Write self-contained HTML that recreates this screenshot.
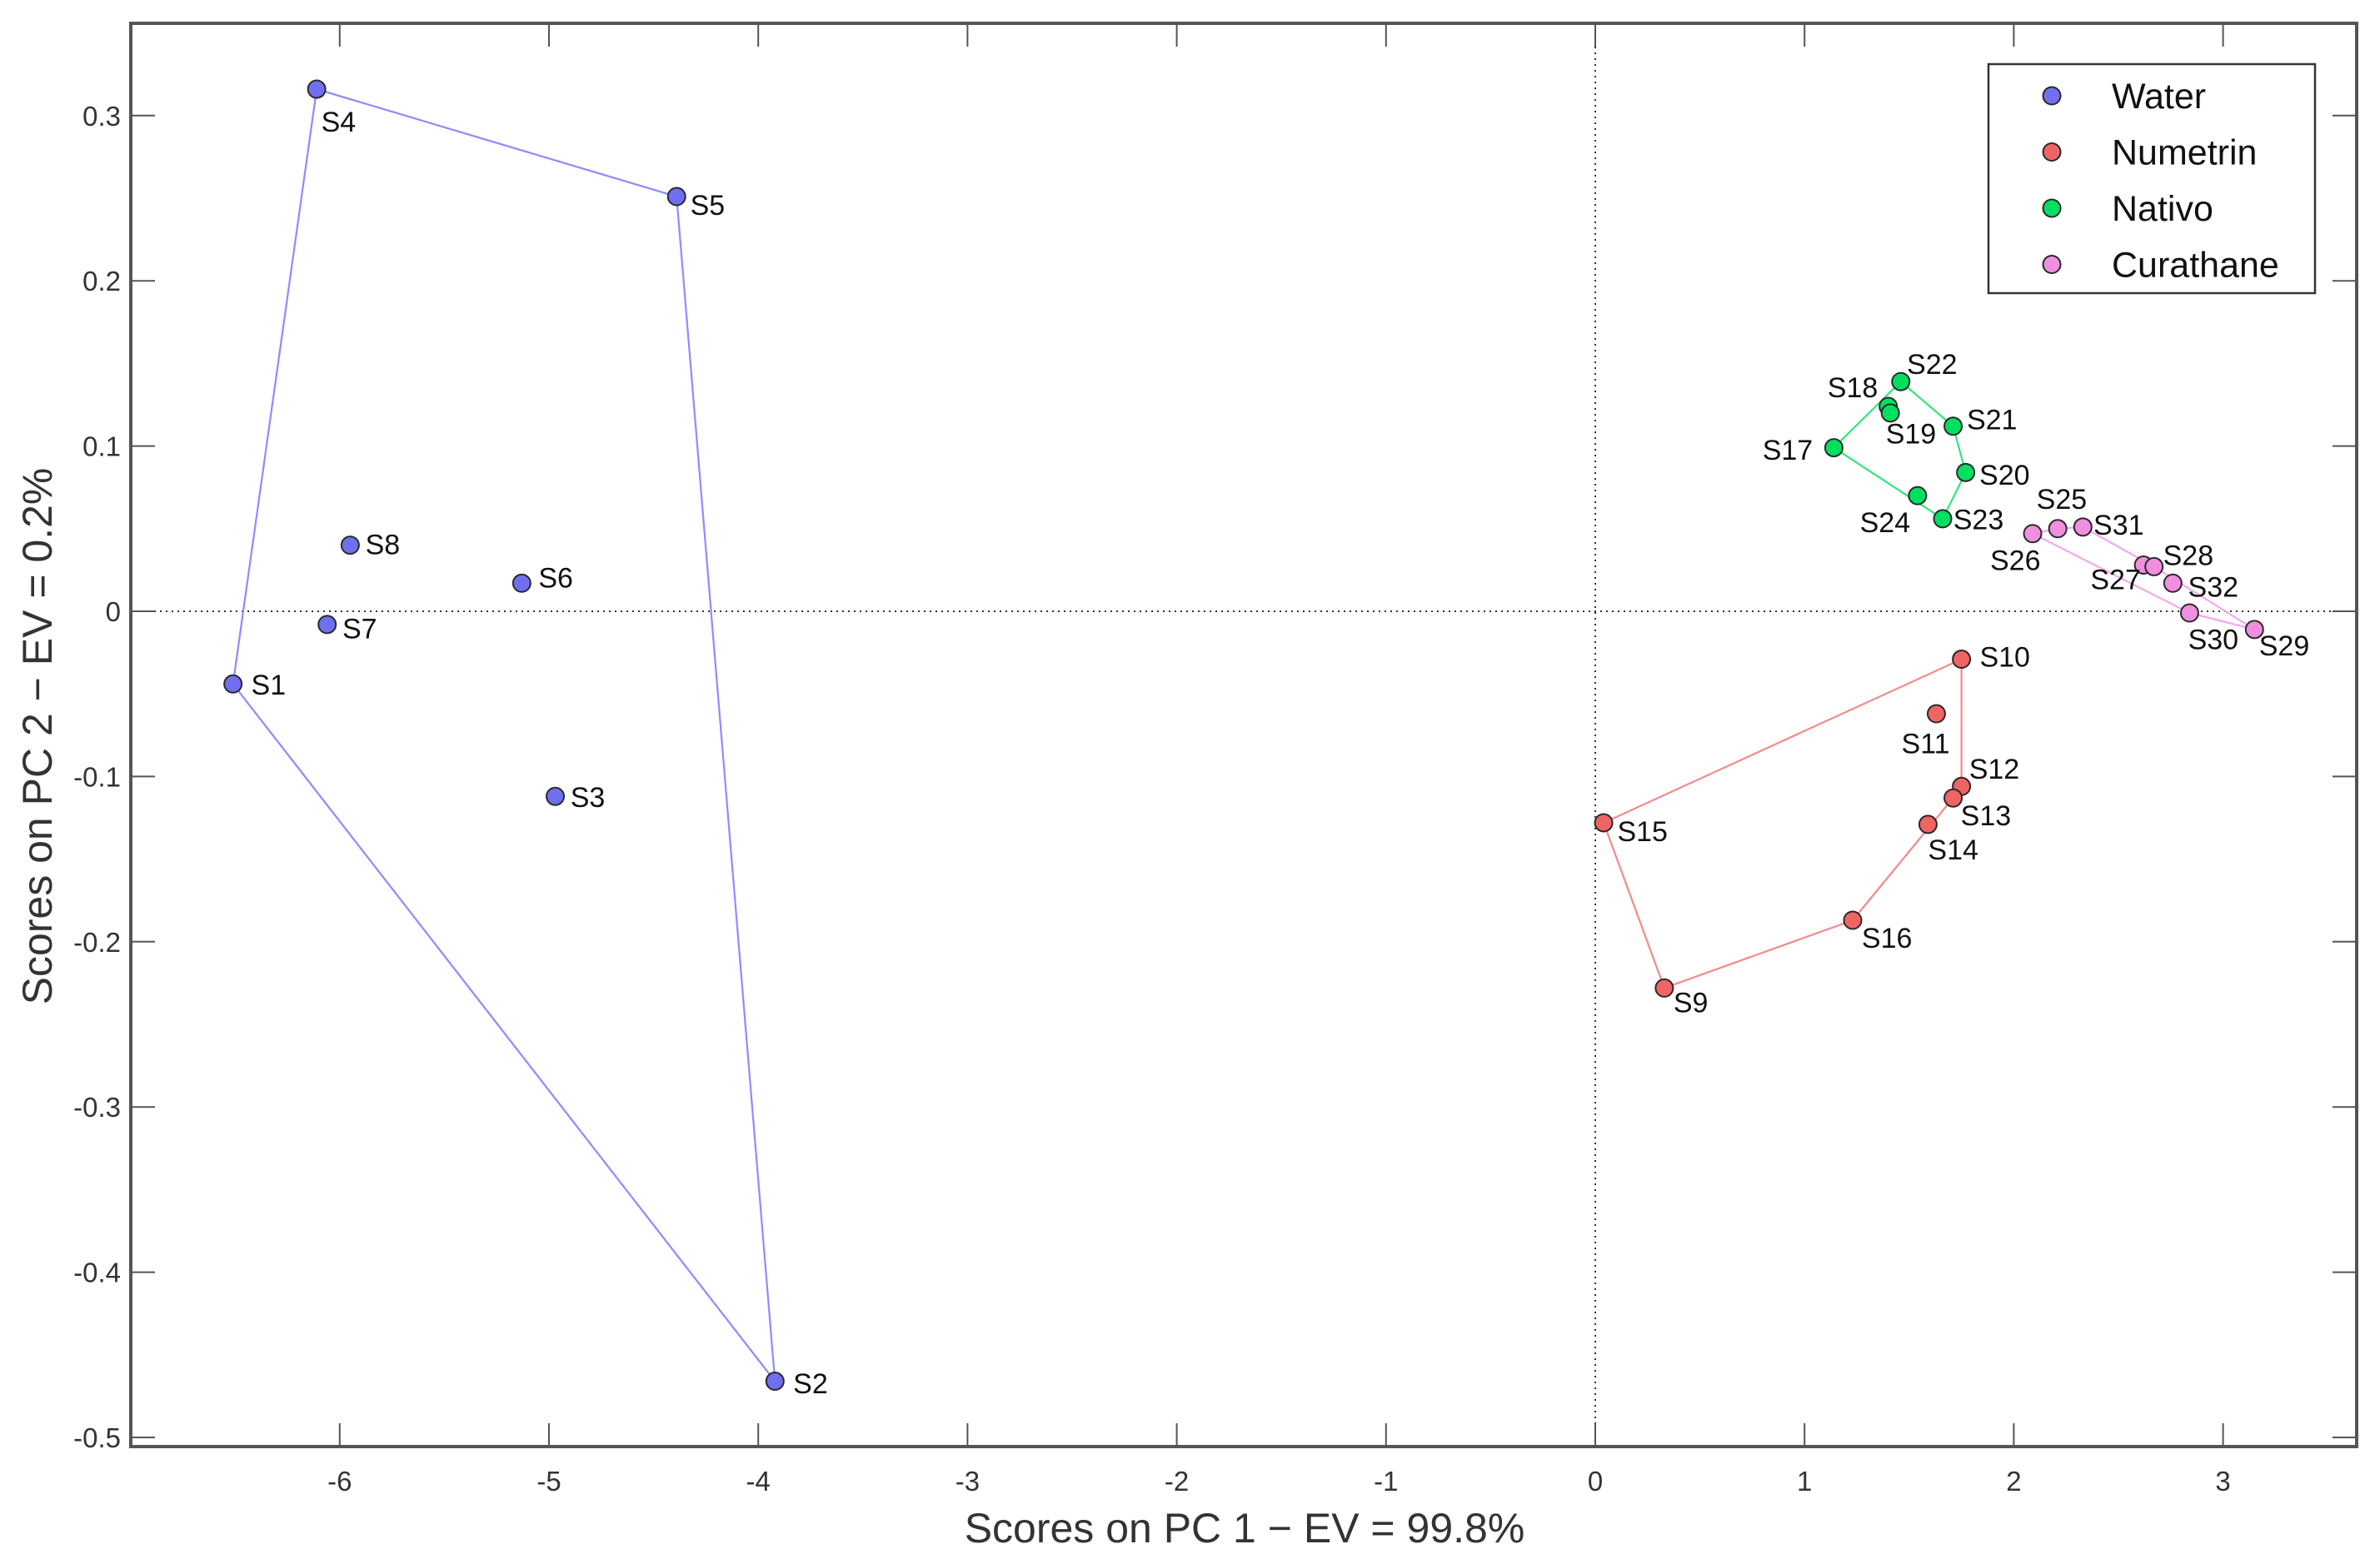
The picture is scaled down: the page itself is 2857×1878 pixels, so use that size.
<!DOCTYPE html>
<html><head><meta charset="utf-8"><style>
html,body{margin:0;padding:0;background:#fff}
svg{display:block;font-family:"Liberation Sans",Arial,sans-serif}
</style></head><body>
<svg id="chart" width="2857" height="1878" viewBox="0 0 2857 1878" xmlns="http://www.w3.org/2000/svg">
<rect x="0" y="0" width="2857" height="1878" fill="#fff"/>
<g id="grid"></g><g id="hulls"></g><g id="points"></g><g id="labels"></g><g id="axes"></g><g id="legend"></g>
</svg>
<script>
const groups = ["Water","Numetrin","Nativo","Curathane"];
const sampleNames = ["S1","S2","S3","S4","S5","S6","S7","S8","S9","S10","S11","S12","S13","S14","S15","S16","S17","S18","S19","S20","S21","S22","S23","S24","S25","S26","S27","S28","S29","S30","S31","S32"];
const sampleGroup = [0,0,0,0,0,0,0,0,1,1,1,1,1,1,1,1,2,2,2,2,2,2,2,2,3,3,3,3,3,3,3,3];
const pc1Scores = [-6.51,-3.92,-4.97,-6.11,-4.39,-5.13,-6.06,-5.95, 0.33,1.75,1.63,1.75,1.71,1.59,0.04,1.23, 1.14,1.40,1.41,1.77,1.71,1.46,1.66,1.54, 2.21,2.09,2.62,2.67,3.15,2.84,2.33,2.76];
const pc2Scores = [-0.044,-0.466,-0.112,0.316,0.251,0.017,-0.008,0.040, -0.228,-0.029,-0.062,-0.106,-0.113,-0.129,-0.128,-0.187, 0.099,0.124,0.120,0.084,0.112,0.139,0.056,0.070, 0.050,0.047,0.028,0.027,-0.011,-0.001,0.051,0.017];
const xTicks = [-6,-5,-4,-3,-2,-1,0,1,2,3];
const yTicks = [0.3,0.2,0.1,0,-0.1,-0.2,-0.3,-0.4,-0.5];

const fillColors=["#6f6ff0","#f06464","#00e060","#f08fe0"];
const lineColors=["#8c8cff","#f58a8a","#33e67a","#f6a6ea"];
const labelOff=[[12,7],[12,8],[10,7],[3,28],[9,12],[11,3],[10,9],[10,6],[6,16],[12,5],[-23,26],[5,-5],[5,18],[0,23],[9,12],[6,18],[-47,8],[-40,-6],[-3,20],[9,8],[9,2],[4,-5],[7,7],[-38,24],[-14,-13],[-28,24],[-35,16],[6,-1],[3,17],[-1,24],[7,5],[10,9]];
const K=1.822;
const L=157,R=2829,T=28,B=1737;
const X=v=>1915+251.2*v, Y=v=>734-1984*v;
const NS="http://www.w3.org/2000/svg";
function mk(t,a,p){const e=document.createElementNS(NS,t);for(const k in a)e.setAttribute(k,a[k]);p.appendChild(e);return e;}
const G=id=>document.getElementById(id);

let e=mk('line',{x1:X(0),x2:X(0),y1:T,y2:B,stroke:'#333','stroke-width':2,'stroke-dasharray':'2 5'},G('grid'));


e=mk('line',{x1:L,x2:R,y1:Y(0),y2:Y(0),stroke:'#333','stroke-width':2,'stroke-dasharray':'2 5'},G('grid'));



function hull(pts){pts=pts.slice().sort((a,b)=>a[0]-b[0]||a[1]-b[1]);const c=(o,a,b)=>(a[0]-o[0])*(b[1]-o[1])-(a[1]-o[1])*(b[0]-o[0]);const lo=[],up=[];for(const p of pts){while(lo.length>=2&&c(lo[lo.length-2],lo[lo.length-1],p)<=0)lo.pop();lo.push(p);}for(const p of pts.slice().reverse()){while(up.length>=2&&c(up[up.length-2],up[up.length-1],p)<=0)up.pop();up.push(p);}return lo.slice(0,-1).concat(up.slice(0,-1));}
groups.forEach((g,gi)=>{const pts=[];sampleGroup.forEach((s,i)=>{if(s===gi)pts.push([X(pc1Scores[i]),Y(pc2Scores[i])]);});
const h=hull(pts);const el=mk('polygon',{points:h.map(p=>p.join(',')).join(' '),fill:'none',stroke:lineColors[gi],'stroke-width':2.2},G('hulls'));

});

sampleNames.forEach((n,i)=>{const gi=sampleGroup[i];const cx=X(pc1Scores[i]),cy=Y(pc2Scores[i]);
const c=mk('circle',{cx:cx,cy:cy,r:10.5,fill:fillColors[gi],stroke:'#2a2a2a','stroke-width':2},G('points'));


const t=mk('text',{x:cx+labelOff[i][0]*K,y:cy+labelOff[i][1]*K,'font-size':34,fill:'#111'},G('labels'));t.textContent=n;

});

const ax=G('axes');
e=mk('rect',{x:L,y:T,width:R-L,height:B-T,fill:'none',stroke:'#555','stroke-width':4},ax);


xTicks.forEach(v=>{const x=X(v);mk('line',{x1:x,x2:x,y1:B,y2:B-28,stroke:'#555','stroke-width':2},ax);mk('line',{x1:x,x2:x,y1:T,y2:T+28,stroke:'#555','stroke-width':2},ax);
const t=mk('text',{x:x,y:1790,'font-size':33,fill:'#333','text-anchor':'middle'},ax);t.textContent=v<0?'-'+Math.abs(v):String(v);

});
yTicks.forEach(v=>{const y=Y(v);mk('line',{x1:L,x2:L+29,y1:y,y2:y,stroke:'#555','stroke-width':2},ax);mk('line',{x1:R,x2:R-29,y1:y,y2:y,stroke:'#555','stroke-width':2},ax);
const t=mk('text',{x:145,y:y+12,'font-size':33,fill:'#333','text-anchor':'end'},ax);t.textContent=v===0?'0':(v<0?'-':'')+Math.abs(v).toFixed(1);

});
e=mk('text',{x:1494,y:1852,'font-size':50,fill:'#333','text-anchor':'middle'},ax);e.textContent='Scores on PC 1 \u2212 EV = 99.8%';


e=mk('text',{x:0,y:0,'font-size':50,fill:'#333','text-anchor':'middle',transform:'translate(62,884) rotate(-90)'},ax);e.textContent='Scores on PC 2  \u2212 EV = 0.2%';



const lg=G('legend');
e=mk('rect',{x:2387,y:77,width:392,height:275,fill:'#fff',stroke:'#333','stroke-width':2.5},lg);


groups.forEach((g,gi)=>{const y=115+gi*67.5;
const c=mk('circle',{cx:2463,cy:y,r:10.5,fill:fillColors[gi],stroke:'#2a2a2a','stroke-width':2},lg);


const t=mk('text',{x:2535,y:y+15,'font-size':43,fill:'#111'},lg);t.textContent=g;

});
</script>
</body></html>
